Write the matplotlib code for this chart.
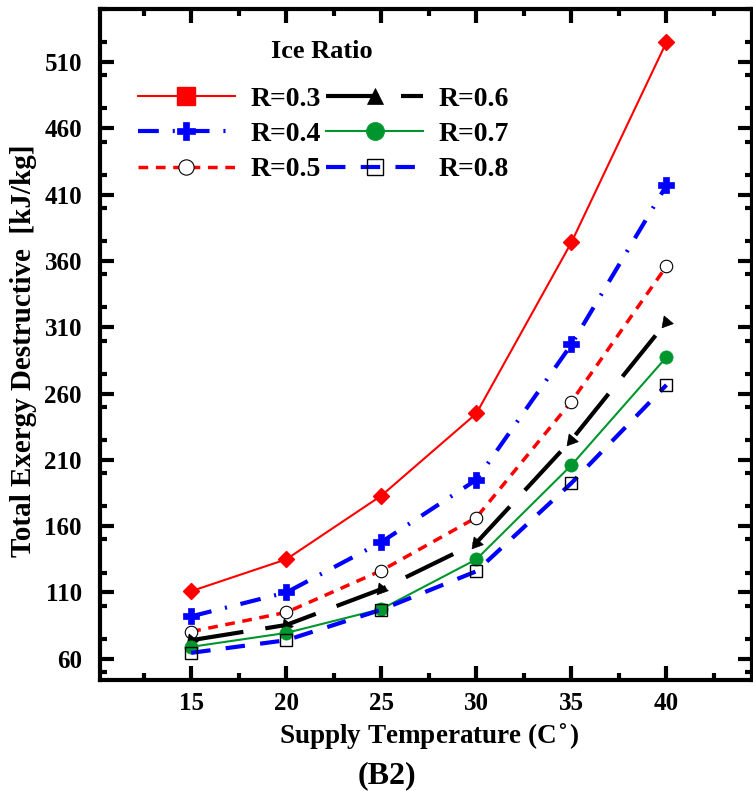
import matplotlib
matplotlib.use("Agg")
import matplotlib.pyplot as plt
from matplotlib.lines import Line2D
from matplotlib.ticker import MultipleLocator

plt.rcParams['font.family'] = ['Liberation Serif', 'DejaVu Serif']
plt.rcParams['font.weight'] = 'bold'
plt.rcParams['lines.scale_dashes'] = False

# supply temperature
temps = [15, 20, 25, 30, 35, 40]

# total exergy destruction per ice ratio
r03 = [111, 135, 183, 245, 374, 525]
r04 = [92, 110, 148, 195, 297, 417]
r05 = [80.5, 95, 126.5, 166.5, 254, 356]
r06 = [74, 85.5, 112.5, 147.5, 225, 314]
r07 = [69, 79.5, 97.5, 135, 206, 287.5]
r08 = [64.5, 74, 97, 126, 192.5, 266.5]

labels = ['R=0.3', 'R=0.4', 'R=0.5', 'R=0.6', 'R=0.7', 'R=0.8']
series = [r03, r04, r05, r06, r07, r08]

# style per series: color, linewidth, dashes, plot marker, marker size, face, edge, mew
styles = [
    dict(color='#ff0000', lw=1.5, dashes=None, marker='D', ms=8, mfc='#ff0000', mec='#ff0000', mew=1),
    dict(color='#0000ff', lw=3, dashes=(15, 10, 1.5, 10), marker='P', ms=12, mfc='#0000ff', mec='#0000ff', mew=0.5),
    dict(color='#ff0000', lw=2.5, dashes=(7, 5.5), marker='o', ms=9, mfc='white', mec='black', mew=0.8),
    dict(color='black', lw=3, dashes=(38, 16), marker=(3, 0, 140), ms=10, mfc='black', mec='black', mew=0.5),
    dict(color='#00962e', lw=1.5, dashes=None, marker='o', ms=9.5, mfc='#00962e', mec='#00962e', mew=0.5),
    dict(color='#0000ff', lw=3, dashes=(14, 11), marker='s', ms=9, mfc='none', mec='black', mew=1),
]
# legend markers (drawn a bit differently in the original legend)
leg_markers = ['s', 'P', 'o', '^', 'o', 's']
leg_ms = [13, 13, 11, 12, 13, 12]

fig = plt.figure(figsize=(7.53, 7.91), dpi=100)
ax = fig.add_axes([100/753, 111/791, 652/753, 671/791])

for vals, st, lab in zip(series, styles, labels):
    line, = ax.plot(temps, vals, color=st['color'], lw=st['lw'], marker=st['marker'],
                    ms=st['ms'], mfc=st['mfc'], mec=st['mec'], mew=st['mew'], label=lab,
                    clip_on=False)
    if st['dashes'] is not None:
        line.set_dashes(st['dashes'])

handles = []
for st, lab, m, ms in zip(styles, labels, leg_markers, leg_ms):
    h = Line2D([], [], color=st['color'], lw=st['lw'], marker=m, ms=ms,
               mfc=st['mfc'], mec=st['mec'], mew=st['mew'] if m != 'P' else 0.5)
    if st['dashes'] is not None:
        h.set_dashes(st['dashes'])
    handles.append(h)

leg = ax.legend(handles, labels, ncol=2, loc='upper left', bbox_to_anchor=(0.058, 0.885),
                frameon=False, fontsize=20, handlelength=3.5,
                handletextpad=0.55, columnspacing=0.2, labelspacing=0.36, borderpad=0,
                borderaxespad=0)
ax.text((322 - 100) / 652, (680 - 52) / 671, 'Ice Ratio', transform=ax.transAxes,
        fontsize=19, fontweight='bold', ha='center', va='center')

ax.set_xlim(10.2, 44.5)
ax.set_ylim(44, 550)
ax.xaxis.set_major_locator(MultipleLocator(5))
ax.xaxis.set_minor_locator(MultipleLocator(2.5))
ax.set_yticks(range(60, 511, 50))
ax.yaxis.set_minor_locator(MultipleLocator(25))
ax.set_xticks(temps)

ax.tick_params(which='major', direction='in', length=10, width=3, labelsize=18,
               top=True, right=True, pad=9)
ax.tick_params(axis='y', which='major', pad=13)
ax.tick_params(which='minor', direction='in', length=5, width=3, top=True, right=True)
ax.tick_params(axis='y', labelright=False)
for s in ax.spines.values():
    s.set_linewidth(3)

ax.set_xlabel('Supply Temperature (C$^{\\circ}$)', fontsize=19.5, fontweight='bold')
ax.set_ylabel('Total Exergy Destructive  [kJ/kg]', fontsize=21, fontweight='bold')
ax.xaxis.set_label_coords((429 - 100) / 652, -(721 - 680) / 671)
ax.yaxis.set_label_coords(-(100 - 37) / 652, (680 - 351) / 671)

fig.text(387/753, 1 - 776/791, '(B2)', fontsize=23, fontweight='bold', ha='center', va='center')

fig.savefig('out.png', dpi=100)
